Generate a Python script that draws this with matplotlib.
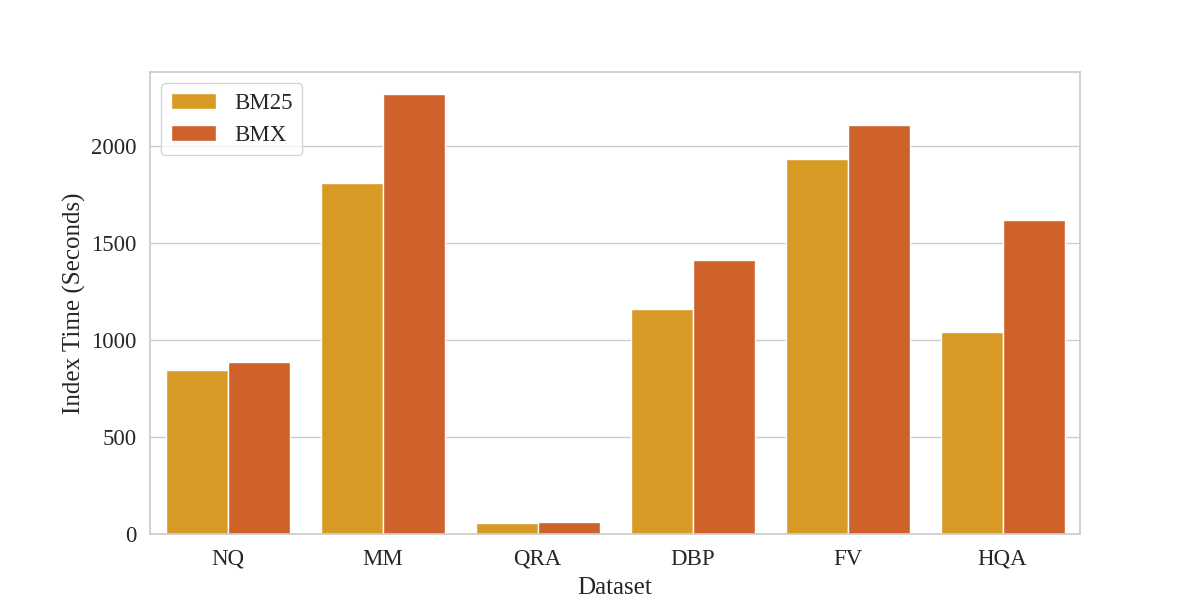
import matplotlib
matplotlib.use('Agg')
import matplotlib.pyplot as plt
import numpy as np
import seaborn as sns

datasets = ['NQ', 'MM', 'QRA', 'DBP', 'FV', 'HQA']
bm25 = [848, 1810, 55, 1162, 1937, 1043]
bmx = [888, 2270, 60, 1415, 2108, 1622]

sns.set_theme(style='whitegrid', context='notebook', font_scale=1.5)
plt.rcParams['font.family'] = ['Liberation Serif', 'DejaVu Serif']

fig, ax = plt.subplots(figsize=(12, 6), dpi=100)
x = np.arange(len(datasets))
w = 0.4
ax.bar(x - w / 2, bm25, w, color='#d69a25', edgecolor='white', linewidth=1, label='BM25')
ax.bar(x + w / 2, bmx, w, color='#cf622a', edgecolor='white', linewidth=1, label='BMX')

ax.set_xticks(x)
ax.set_xticklabels(datasets)
ax.set_xlim(-0.5, len(datasets) - 0.5)
ax.set_yticks([0, 500, 1000, 1500, 2000])
ax.tick_params(axis='x', pad=4.5)
ax.xaxis.grid(False)
ax.set_xlabel('Dataset', labelpad=5.5)
ax.set_ylabel('Index Time (Seconds)')
ax.legend(loc='upper left')

fig.savefig('out.png')
